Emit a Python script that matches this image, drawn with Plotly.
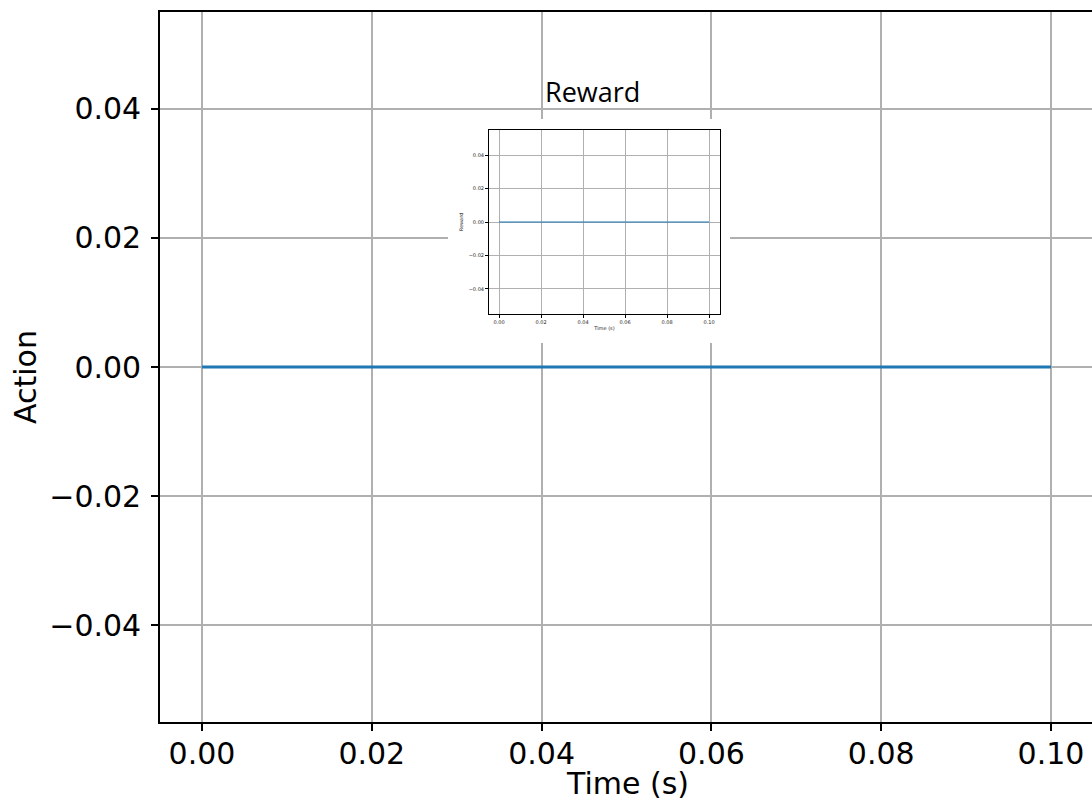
import plotly.graph_objects as go

# Data
time_s = [0.00, 0.01, 0.02, 0.03, 0.04, 0.05, 0.06, 0.07, 0.08, 0.09, 0.10]
action = [0.0, 0.0, 0.0, 0.0, 0.0, 0.0, 0.0, 0.0, 0.0, 0.0, 0.0]
reward = [0.0, 0.0, 0.0, 0.0, 0.0, 0.0, 0.0, 0.0, 0.0, 0.0, 0.0]
x_ticks = [0.00, 0.02, 0.04, 0.06, 0.08, 0.10]
y_ticks = [-0.04, -0.02, 0.00, 0.02, 0.04]

W, H = 1092, 809


def px_x(p):
    return p / W


def px_y(p):
    return 1 - p / H


BLUE = "#1f77b4"
GRID = "#b0b0b0"
FONT = "DejaVu Sans"
FS = 30

fig = go.Figure()

# main trace
fig.add_trace(go.Scatter(x=time_s, y=action, mode="lines",
                         line=dict(color=BLUE, width=3.2),
                         xaxis="x", yaxis="y", showlegend=False))
# white backdrop for the inset (dummy subplot)
fig.add_trace(go.Scatter(x=[0], y=[0], mode="markers", marker=dict(opacity=0),
                         xaxis="x2", yaxis="y2", showlegend=False, hoverinfo="skip"))
# inset trace
fig.add_trace(go.Scatter(x=time_s, y=reward, mode="lines",
                         line=dict(color=BLUE, width=1),
                         xaxis="x3", yaxis="y3", showlegend=False))

fig.update_layout(
    width=W, height=H,
    margin=dict(l=0, r=0, t=0, b=0),
    paper_bgcolor="white", plot_bgcolor="white",
    font=dict(family=FONT, color="black"),
    xaxis=dict(domain=[px_x(160), 1.0], range=[-0.004947, 0.10483],
               tickvals=x_ticks, tickformat=".2f",
               showgrid=True, gridcolor=GRID, gridwidth=1.8,
               showline=True, linecolor="black", linewidth=1.6, mirror=True,
               ticks="outside", ticklen=7, tickwidth=1.6, tickcolor="black",
               tickfont=dict(size=FS, family=FONT), zeroline=False,
               ticklabelstandoff=-3,
               automargin=False, anchor="y"),
    yaxis=dict(domain=[px_y(722), px_y(12)], range=[-0.055, 0.055],
               tickvals=y_ticks, tickformat=".2f",
               showgrid=True, gridcolor=GRID, gridwidth=1.8,
               showline=True, linecolor="black", linewidth=1.6, mirror=False,
               ticks="outside", ticklen=7, tickwidth=1.6, tickcolor="black",
               tickfont=dict(size=FS, family=FONT), zeroline=False,
               ticklabelstandoff=4,
               automargin=False, anchor="x"),
    xaxis2=dict(domain=[px_x(448), px_x(730)], range=[0, 1], visible=False,
                showgrid=False, zeroline=False, anchor="y2", fixedrange=True),
    yaxis2=dict(domain=[px_y(343), px_y(119)], range=[0, 1], visible=False,
                showgrid=False, zeroline=False, anchor="x2", fixedrange=True),
    xaxis3=dict(domain=[px_x(489), px_x(720)], range=[-0.00476, 0.1052],
                tickvals=x_ticks, tickformat=".2f",
                showgrid=True, gridcolor=GRID, gridwidth=1,
                showline=True, linecolor="black", linewidth=1, mirror=True,
                ticks="outside", ticklen=3, tickwidth=0.8, tickcolor="black",
                tickfont=dict(size=5, family=FONT, color="#222"), zeroline=False,
                title=dict(text="Time (s)", font=dict(size=5, family=FONT, color="#222"), standoff=2),
                automargin=False, anchor="y3"),
    yaxis3=dict(domain=[px_y(314), px_y(130)], range=[-0.055, 0.055],
                tickvals=y_ticks, tickformat=".2f",
                showgrid=True, gridcolor=GRID, gridwidth=1,
                showline=True, linecolor="black", linewidth=1, mirror=True,
                ticks="outside", ticklen=3, tickwidth=0.8, tickcolor="black",
                tickfont=dict(size=5, family=FONT, color="#222"), zeroline=False,
                title=dict(text="Reward", font=dict(size=5, family=FONT, color="#222"), standoff=4),
                automargin=False, anchor="x3"),
    annotations=[
        dict(text="Reward", x=px_x(592.5), y=px_y(91), xref="paper", yref="paper",
             xanchor="center", yanchor="middle", showarrow=False,
             font=dict(size=27, family="Open Sans", color="black")),
        dict(text="Time (s)", x=px_x(627), y=px_y(783), xref="paper", yref="paper",
             xanchor="center", yanchor="middle", showarrow=False,
             font=dict(size=FS, family=FONT, color="black")),
        dict(text="Action", x=px_x(25), y=px_y(377), xref="paper", yref="paper",
             xanchor="center", yanchor="middle", showarrow=False, textangle=-90,
             font=dict(size=FS, family=FONT, color="black")),
    ],
)

fig.write_html("out.html", config={"displayModeBar": False},
               post_script="document.body.style.margin='0px';document.body.style.overflow='hidden';")
